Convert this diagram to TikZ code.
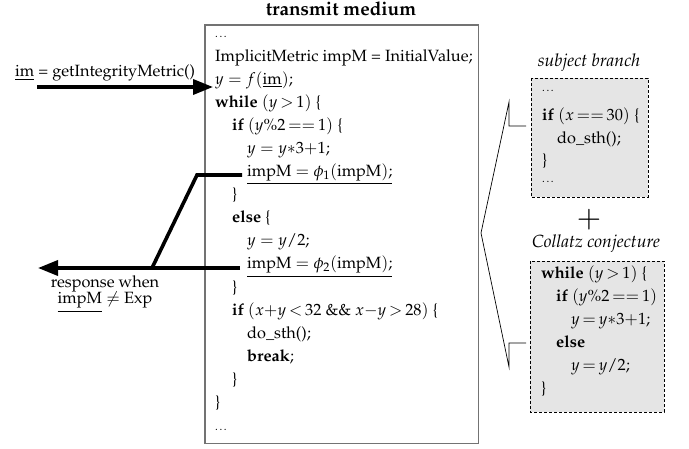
\documentclass[tikz,border=0pt]{standalone}
\usepackage[T1]{fontenc}
\usepackage{mathpazo}
\usetikzlibrary{arrows.meta}
\newcommand{\smdots}{{\fontsize{11}{11}\selectfont\ldots}}
\begin{document}
\begin{tikzpicture}[x=1pt,y=-1pt,
  txt/.style={anchor=base west,inner sep=0pt,font=\fontsize{16.3}{20}\selectfont},
  ttl/.style={anchor=base,inner sep=0pt,font=\fontsize{17.6}{20}\selectfont\itshape},
  mainbox/.style={draw=black!55,line width=1.4pt},
  subbox/.style={draw=black,fill=black!10,densely dashed,line width=0.6pt},
  bigarrow/.style={line width=3.6pt,-{Triangle[length=20pt,width=15pt]}},
  bigline/.style={line width=3.6pt,line join=miter},
  brace/.style={line width=0.7pt}]
\useasboundingbox (0,0) rectangle (689,449);
% main box
\node[anchor=base,inner sep=0pt,font=\fontsize{19}{20}\selectfont\bfseries] (title) at (341,16) {transmit medium};
\draw[mainbox] (205,25) rectangle (478.5,443.5);
\node[txt] (l0) at (215,38) {\smdots};
\node[txt] (l1) at (215,61.1) {ImplicitMetric impM = InitialValue;};
\node[txt] (l2) at (215,84.2) {$y = f(\underline{\mathrm{im}})$;};
\node[txt] (l3) at (215,107.3) {\textbf{while} $(y\,{>}\,1)$ \{};
\node[txt] (l4) at (232,130.4) {\textbf{if} $(y\%2\,{=}{=}\,1)$ \{};
\node[txt] (l5) at (247,153.5) {$y = y{\ast}3{+}1$;};
\node[txt] (l6) at (247,176.6) {\underline{impM $= \phi_1($impM$)$;}};
\node[txt] (l7) at (232,199.7) {\}};
\node[txt] (l8) at (232,222.8) {\textbf{else} \{};
\node[txt] (l9) at (247,245.9) {$y = y/2$;};
\node[txt] (l10) at (247,269) {\underline{impM $= \phi_2($impM$)$;}};
\node[txt] (l11) at (232,292.1) {\}};
\node[txt] (l12) at (232,315.2) {\textbf{if} $(x{+}y\,{<}\,32$ \&\& $x{-}y\,{>}\,28)$ \{};
\node[txt] (l13) at (247,338.3) {do\_sth();};
\node[txt] (l14) at (247,361.4) {\textbf{break};};
\node[txt] (l15) at (232,384.5) {\}};
\node[txt] (l16) at (215,407.6) {\}};
\node[txt] (l17) at (215,430.7) {\smdots};
% input arrow
\node[txt] (imlbl) at (15,77) {\underline{im} = getIntegrityMetric()};
\coordinate (instart) at (37,87);
\coordinate (intip) at (213,87);
\draw[bigarrow] (instart) -- (intip);
% response arrow
\coordinate (r1) at (242,175);
\coordinate (rbend) at (197,175);
\coordinate (rjoin) at (152,268);
\coordinate (r2) at (240,268);
\coordinate (rtip) at (38,268);
\draw[bigline] (r1) -- (rbend) -- (rjoin);
\draw[bigarrow] (r2) -- (rtip);
\node[anchor=base,inner sep=0pt,font=\fontsize{16.3}{20}\selectfont] (resp1) at (105,288) {response when};
\node[anchor=base,inner sep=0pt,font=\fontsize{16.3}{20}\selectfont] (resp2) at (105,304) {\underline{impM} $\neq$ Exp};
% subject branch
\node[ttl] (sbt) at (589,67) {subject branch};
\draw[subbox] (531,78) rectangle (648,197);
\node[txt] (s0) at (542,92) {\smdots};
\node[txt] (s1) at (542,121) {\textbf{if} $(x\,{=}{=}\,30)$ \{};
\node[txt] (s2) at (557,143.5) {do\_sth();};
\node[txt] (s3) at (542,166) {\}};
\node[txt] (s4) at (542,183) {\smdots};
\node[inner sep=0pt,font=\fontsize{30}{30}\selectfont] (plus) at (589,220) {$+$};
% collatz
\node[ttl] (cct) at (596,248) {Collatz conjecture};
\draw[subbox] (530,261) rectangle (664,412);
\node[txt] (c0) at (541,279) {\textbf{while} $(y\,{>}\,1)$ \{};
\node[txt] (c1) at (556,302) {\textbf{if} $(y\%2\,{=}{=}\,1)$};
\node[txt] (c2) at (571,325) {$y\,{=}\,y{\ast}3{+}1$;};
\node[txt] (c3) at (556,348) {\textbf{else}};
\node[txt] (c4) at (571,371) {$y\,{=}\,y/2$;};
\node[txt] (c5) at (541,394) {\}};
% bracket
\coordinate (b1) at (526,126);
\coordinate (b2) at (509,126);
\coordinate (b3) at (509,102);
\coordinate (b4) at (481,233);
\coordinate (b5) at (509,367);
\coordinate (b6) at (509,343);
\coordinate (b7) at (526,343);
\draw[brace] (b1) -- (b2) -- (b3) -- (b4) -- (b5) -- (b6) -- (b7);
\end{tikzpicture}
\end{document}
